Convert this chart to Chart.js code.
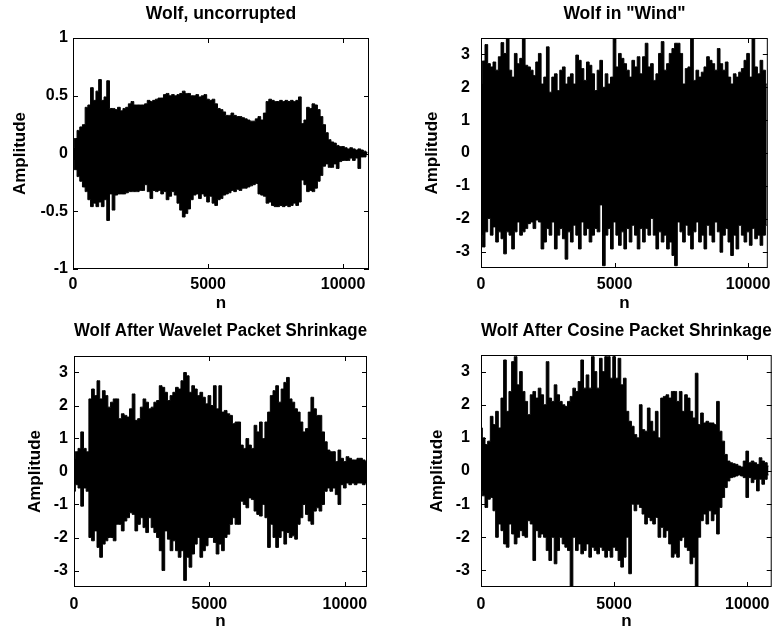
<!DOCTYPE html>
<html>
<head>
<meta charset="utf-8">
<script src="https://cdn.jsdelivr.net/npm/chart.js@4.4.1/dist/chart.umd.min.js"></script>
<style>
  body { margin: 0; background: #fff; width: 778px; height: 635px; position: relative; overflow: hidden; }
  canvas { position: absolute; }
</style>
</head>
<body>
<canvas id="chartOne" width="389" height="318" style="left:0;top:0"></canvas>
<canvas id="chartTwo" width="389" height="318" style="left:389px;top:0"></canvas>
<canvas id="chartThree" width="389" height="317" style="left:0;top:318px"></canvas>
<canvas id="chartFour" width="389" height="317" style="left:389px;top:318px"></canvas>
<script>
// envelope of each signal, one value every 100 samples
let step = 100;

let nTicks = [0, 5000, 10000];
let wolfTicks = [-1, -0.5, 0, 0.5, 1];
let ampTicks = [-3, -2, -1, 0, 1, 2, 3];

let wolfUp = [0.05, 0.13, 0.2, 0.23, 0.25, 0.4, 0.42, 0.57, 0.46, 0.54,
  0.64, 0.46, 0.49, 0.63, 0.39, 0.39, 0.38, 0.40, 0.37, 0.39,
  0.40, 0.43, 0.45, 0.42, 0.42, 0.42, 0.42, 0.43, 0.46, 0.45,
  0.46, 0.47, 0.48, 0.48, 0.51, 0.52, 0.50, 0.51, 0.50, 0.51,
  0.52, 0.54, 0.52, 0.52, 0.50, 0.50, 0.51, 0.49, 0.50, 0.51,
  0.47, 0.46, 0.47, 0.43, 0.39, 0.38, 0.36, 0.33, 0.33, 0.35,
  0.33, 0.32, 0.32, 0.31, 0.30, 0.29, 0.28, 0.28, 0.30, 0.32,
  0.29, 0.35, 0.45, 0.47, 0.46, 0.45, 0.45, 0.46, 0.45, 0.46,
  0.45, 0.46, 0.45, 0.46, 0.49, 0.26, 0.29, 0.40, 0.39, 0.43,
  0.42, 0.38, 0.32, 0.25, 0.18, 0.12, 0.10, 0.09, 0.07, 0.06,
  0.06, 0.05, 0.04, 0.05, 0.04, 0.03, 0.04, 0.03, 0.02, 0.01];
let wolfDown = [-0.06, -0.14, -0.2, -0.24, -0.29, -0.33, -0.40, -0.46, -0.43, -0.46,
  -0.42, -0.46, -0.40, -0.58, -0.35, -0.49, -0.36, -0.35, -0.35, -0.35,
  -0.34, -0.33, -0.33, -0.33, -0.33, -0.32, -0.32, -0.27, -0.33, -0.39,
  -0.32, -0.33, -0.32, -0.35, -0.33, -0.40, -0.37, -0.33, -0.36, -0.43,
  -0.49, -0.55, -0.52, -0.48, -0.40, -0.36, -0.35, -0.39, -0.35, -0.37,
  -0.42, -0.37, -0.43, -0.45, -0.40, -0.39, -0.36, -0.35, -0.34, -0.32,
  -0.33, -0.31, -0.32, -0.30, -0.30, -0.29, -0.28, -0.27, -0.26, -0.35,
  -0.36, -0.37, -0.43, -0.42, -0.45, -0.46, -0.46, -0.45, -0.46, -0.45,
  -0.46, -0.45, -0.43, -0.45, -0.42, -0.23, -0.27, -0.33, -0.32, -0.33,
  -0.30, -0.24, -0.19, -0.11, -0.09, -0.12, -0.12, -0.09, -0.13, -0.07,
  -0.06, -0.06, -0.06, -0.04, -0.06, -0.04, -0.13, -0.03, -0.03, -0.01];

let windUp = [2.1, 2.8, 3.3, 2.72, 2.62, 2.77, 2.52, 2.93, 3.36, 3.03,
  3.5, 2.52, 2.31, 3.03, 2.72, 2.88, 3.5, 2.67, 2.62, 2.52,
  2.36, 2.77, 3.03, 2.1, 2.31, 3.23, 1.85, 2.31, 2.41, 1.9,
  2.52, 2.62, 2.1, 2.31, 2.41, 2.1, 2.98, 2.82, 2.57, 2.21,
  2.77, 2.67, 2.41, 1.9, 2.52, 2.82, 2.0, 2.41, 2.1, 2.31,
  3.5, 2.62, 3.03, 2.88, 2.72, 2.52, 2.31, 2.82, 2.62, 2.93,
  2.41, 2.93, 3.34, 2.62, 2.72, 2.21, 2.41, 3.03, 3.39, 2.52,
  2.72, 3.03, 3.18, 3.34, 3.34, 3.03, 2.1, 2.57, 2.62, 3.5,
  2.21, 2.52, 2.31, 2.46, 2.62, 2.93, 2.82, 2.72, 2.52, 3.18,
  2.72, 2.52, 2.77, 2.31, 2.1, 2.41, 2.31, 2.46, 2.57, 2.82,
  3.03, 2.31, 3.5, 2.62, 2.41, 2.82, 2.52, 2.1];
let windDown = [-2.5, -2.86, -2.4, -1.99, -2.5, -2.25, -2.71, -2.4, -2.61, -3.07,
  -2.4, -2.5, -2.92, -2.4, -2.1, -2.5, -2.4, -2.3, -2.15, -2.1,
  -2.3, -2.04, -2.1, -2.92, -2.71, -2.3, -2.5, -2.1, -2.92, -2.5,
  -2.3, -2.61, -3.23, -2.4, -2.71, -2.2, -2.5, -2.92, -2.1, -2.5,
  -2.3, -2.71, -2.5, -2.3, -2.4, -1.58, -3.43, -2.5, -2.3, -2.92,
  -2.1, -2.5, -2.81, -2.4, -2.92, -2.3, -2.71, -2.2, -2.5, -2.92,
  -2.3, -2.71, -2.3, -2.5, -1.99, -2.5, -2.92, -2.4, -2.71, -2.5,
  -2.92, -2.71, -3.12, -3.43, -2.1, -2.4, -2.71, -2.2, -2.5, -2.92,
  -2.4, -2.1, -2.71, -2.5, -2.92, -2.2, -2.5, -2.71, -2.1, -2.4,
  -3.02, -2.5, -2.3, -2.71, -3.12, -2.5, -2.92, -2.2, -2.5, -2.71,
  -2.4, -2.81, -2.3, -2.61, -2.5, -2.81, -2.5, -2.2];

let waveletUp = [0.4, 0.6, 0.7, 1.2, 0.7, 0.6, 2.2, 2.5, 2.3, 2.75,
  2.2, 2.45, 2.3, 1.95, 2.1, 2.2, 2.2, 1.6, 1.75, 1.7,
  1.65, 1.9, 2.35, 1.55, 1.6, 1.95, 2.2, 2.1, 1.9, 1.95,
  2.1, 2.15, 2.6, 2.55, 2.4, 2.15, 2.3, 2.4, 2.55, 2.5,
  2.75, 3.0, 2.9, 2.4, 2.6, 2.5, 2.3, 2.4, 2.25, 2.05,
  2.3, 2.0, 2.6, 1.9, 2.6, 1.8, 1.85, 1.75, 1.7, 1.45,
  1.5, 1.5, 0.8, 0.7, 1.0, 0.8, 0.7, 1.4, 1.2, 1.5,
  1.0, 1.5, 1.8, 2.3, 2.45, 2.6, 2.1, 2.5, 2.7, 2.85,
  2.2, 2.1, 1.9, 1.8, 1.5, 1.2, 1.3, 1.8, 2.25, 1.9,
  1.7, 1.7, 1.2, 0.9, 0.65, 0.6, 0.6, 0.3, 0.65, 0.4,
  0.3, 0.45, 0.4, 0.35, 0.35, 0.4, 0.4, 0.35, 0.3];
let waveletDown = [-0.6, -0.4, -0.5, -1.05, -0.5, -0.6, -2.0, -2.1, -1.8, -2.3,
  -2.6, -2.2, -2.1, -2.0, -2.0, -2.1, -1.6, -1.6, -1.8, -1.5,
  -1.4, -1.25, -1.3, -1.8, -1.6, -1.4, -1.7, -1.85, -1.4, -1.7,
  -1.85, -2.0, -2.4, -3.0, -1.8, -2.05, -2.4, -2.1, -2.4, -2.6,
  -2.4, -3.3, -2.6, -2.9, -2.5, -2.2, -2.0, -2.6, -2.4, -2.25,
  -2.0, -2.0, -2.15, -2.5, -2.2, -2.4, -2.0, -1.9, -1.6, -1.4,
  -1.6, -1.6, -0.9, -1.0, -1.1, -0.8, -0.85, -1.2, -1.3, -1.35,
  -1.0, -1.4, -2.3, -1.6, -2.0, -2.3, -2.0, -1.8, -2.2, -1.85,
  -2.0, -1.95, -2.05, -1.6, -1.4, -1.0, -1.3, -1.5, -1.6, -1.2,
  -1.1, -1.2, -1.0, -0.6, -0.5, -0.6, -0.5, -0.7, -1.0, -0.4,
  -0.5, -0.35, -0.4, -0.35, -0.4, -0.35, -0.35, -0.4, -0.35];

let cosineUp = [1.3, 1.0, 0.8, 0.9, 1.65, 1.4, 1.8, 1.3, 2.2, 3.35,
  1.8, 2.4, 3.3, 3.45, 2.6, 3.0, 2.4, 2.1, 1.7, 2.3,
  2.4, 2.2, 2.5, 2.3, 2.0, 3.3, 2.2, 2.1, 2.6, 2.3,
  2.1, 2.0, 1.95, 2.1, 2.25, 2.5, 2.4, 2.7, 3.35, 2.5,
  2.9, 2.5, 3.45, 3.0, 2.5, 3.4, 3.0, 3.45, 3.45, 2.8,
  3.45, 2.8, 3.4, 2.6, 2.8, 1.8, 1.5, 1.35, 1.1, 1.0,
  2.0, 1.25, 1.2, 1.9, 1.5, 1.2, 1.8, 1.0, 2.2, 2.25,
  2.3, 2.2, 2.4, 2.4, 2.1, 2.4, 1.8, 2.3, 2.2, 1.8,
  1.6, 2.95, 1.4, 1.75, 1.45, 1.5, 1.45, 1.45, 1.4, 2.1,
  1.2, 0.9, 0.5, 0.3, 0.25, 0.22, 0.2, 0.15, 0.12, 0.3,
  0.6, 0.25, 0.3, 0.25, 0.2, 0.4, 0.3, 0.25, 0.15];
let cosineDown = [-0.6, -0.75, -1.1, -0.85, -0.8, -1.2, -2.0, -1.6, -1.8, -2.2,
  -2.3, -1.6, -1.9, -2.2, -2.0, -1.8, -1.95, -2.0, -1.5, -1.6,
  -2.7, -1.8, -2.0, -1.9, -2.0, -2.4, -2.7, -2.0, -2.8, -2.4,
  -2.0, -2.2, -2.3, -2.4, -3.5, -2.0, -2.4, -2.2, -2.5, -2.4,
  -2.2, -2.6, -2.3, -2.4, -2.5, -2.3, -2.4, -2.6, -2.4, -2.6,
  -2.3, -2.4, -2.7, -2.9, -2.6, -2.0, -3.1, -1.0, -1.2, -1.0,
  -1.1, -1.3, -1.6, -1.4, -1.5, -1.6, -1.4, -2.0, -1.7, -2.0,
  -1.8, -2.2, -2.6, -2.5, -2.6, -2.1, -2.0, -2.3, -2.4, -2.8,
  -2.6, -3.5, -2.0, -1.5, -1.3, -1.6, -1.2, -1.5, -1.3, -1.9,
  -1.1, -0.8, -0.5, -0.3, -0.2, -0.18, -0.15, -0.12, -0.15, -0.2,
  -0.8, -0.2, -0.35, -0.25, -0.6, -0.25, -0.4, -0.25, -0.12];

let titles = ['Wolf, uncorrupted', 'Wolf in "Wind"', 'Wolf After Wavelet Packet Shrinkage', 'Wolf After Cosine Packet Shrinkage'];

Chart.defaults.font.family = '"Liberation Sans", Arial, Helvetica, sans-serif';
Chart.defaults.font.size = 17;
Chart.defaults.font.weight = 'bold';
Chart.defaults.color = '#000';

// box round the plot area + inward tick marks on all four sides
const boxPlugin = {
    id: 'box',
    afterDatasetsDraw(chart) {
        const ctx = chart.ctx;
        const a = chart.chartArea;
        const x = chart.scales.x;
        const y = chart.scales.y;
        ctx.save();
        ctx.strokeStyle = '#000';
        ctx.lineWidth = 1;
        ctx.strokeRect(a.left + 0.5, a.top + 0.5, a.right - a.left - 1, a.bottom - a.top - 1);
        ctx.beginPath();
        x.ticks.forEach(t => {
            let px = Math.round(x.getPixelForValue(t.value)) + 0.5;
            ctx.moveTo(px, a.bottom); ctx.lineTo(px, a.bottom - 5);
            ctx.moveTo(px, a.top); ctx.lineTo(px, a.top + 5);
        });
        y.ticks.forEach(t => {
            let py = Math.round(y.getPixelForValue(t.value)) + 0.5;
            ctx.moveTo(a.left, py); ctx.lineTo(a.left + 5, py);
            ctx.moveTo(a.right, py); ctx.lineTo(a.right - 5, py);
        });
        ctx.stroke();
        ctx.restore();
    }
};

function toPoints(arr) {
    return arr.map((v, i) => ({x: i * step, y: v}));
}

function makeChart(id, p) {
    var ctx = document.getElementById(id).getContext('2d');
    return new Chart(ctx, {
        type: 'line',
        data: {
            datasets: [{
                data: toPoints(p.up),
                borderColor: '#000',
                backgroundColor: '#000',
                borderWidth: 1,
                pointRadius: 0,
                stepped: 'middle',
                fill: '+1'
            }, {
                data: toPoints(p.down),
                borderColor: '#000',
                borderWidth: 1,
                pointRadius: 0,
                stepped: 'middle',
                fill: false
            }]
        },
        options: {
            responsive: false,
            animation: false,
            events: [],
            layout: { padding: { left: 0, right: p.padRight, top: 0, bottom: 0 } },
            plugins: {
                legend: { display: false },
                tooltip: { enabled: false },
                title: {
                    display: true,
                    fullSize: false,   // centre over the plot box, not the canvas
                    text: p.title,
                    font: { size: 17.5 },
                    padding: { top: p.titleTop, bottom: p.titleBottom }
                }
            },
            scales: {
                x: {
                    type: 'linear',
                    min: 0,
                    max: p.xMax,
                    grid: { display: false, drawTicks: false },
                    border: { display: false },
                    ticks: {
                        font: { size: 16 },
                        maxRotation: 0,
                        autoSkip: false,
                        padding: p.xPad,
                        callback: v => String(v)
                    },
                    afterBuildTicks: function(scale) { scale.ticks = nTicks.map(v => ({value: v})); },
                    title: { display: true, text: 'n', font: { size: 17 }, padding: { top: 0, bottom: p.nPad } },
                    afterFit: function(scale) { scale.height = p.xH; }
                },
                y: {
                    min: p.yMin,
                    max: p.yMax,
                    grid: { display: false, drawTicks: false },
                    border: { display: false },
                    ticks: {
                        font: { size: 16 },
                        padding: p.yPad,
                        callback: v => String(v)
                    },
                    afterBuildTicks: function(scale) { scale.ticks = p.yTicks.map(v => ({value: v})); },
                    title: { display: true, text: 'Amplitude', font: { size: 17 }, padding: { top: p.ampPad, bottom: 0 } },
                    afterFit: function(scale) { scale.width = p.yW; }
                }
            }
        },
        plugins: [boxPlugin]
    });
}

var chartOne = makeChart('chartOne', {
    up: wolfUp, down: wolfDown, title: titles[0],
    xMax: 10960, yMin: -1, yMax: 1, yTicks: wolfTicks,
    yW: 73, padRight: 20, xH: 49, titleTop: 4, titleBottom: 13,
    xPad: 6, yPad: 5, nPad: 4, ampPad: 10
});
var chartTwo = makeChart('chartTwo', {
    up: windUp, down: windDown, title: titles[1],
    xMax: 10740, yMin: -3.5, yMax: 3.5, yTicks: ampTicks,
    yW: 92, padRight: 7, xH: 50, titleTop: 4, titleBottom: 13,
    xPad: 7, yPad: 11, nPad: 4, ampPad: 33
});
var chartThree = makeChart('chartThree', {
    up: waveletUp, down: waveletDown, title: titles[2],
    xMax: 10820, yMin: -3.5, yMax: 3.5, yTicks: ampTicks,
    yW: 74, padRight: 22, xH: 48, titleTop: 3, titleBottom: 14,
    xPad: 8, yPad: 6, nPad: 3, ampPad: 25
});
var chartFour = makeChart('chartFour', {
    up: cosineUp, down: cosineDown, title: titles[3],
    xMax: 10920, yMin: -3.5, yMax: 3.5, yTicks: ampTicks,
    yW: 92, padRight: 1, xH: 48, titleTop: 3, titleBottom: 13,
    xPad: 8, yPad: 11, nPad: 3, ampPad: 38
});
</script>
</body>
</html>
